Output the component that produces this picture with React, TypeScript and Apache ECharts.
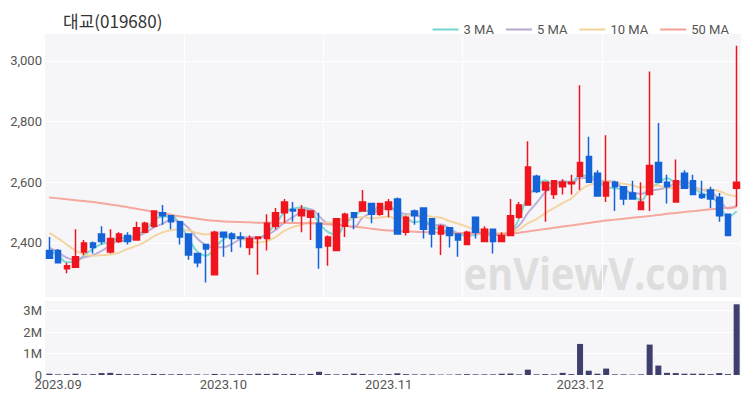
import React, { useEffect, useRef } from "react";
import * as echarts from "echarts";

const dates: string[] = [
  "2023-08-31",
  "2023-09-01", "2023-09-04", "2023-09-05", "2023-09-06", "2023-09-07", "2023-09-08",
  "2023-09-11", "2023-09-12", "2023-09-13", "2023-09-14", "2023-09-15",
  "2023-09-18", "2023-09-19", "2023-09-20", "2023-09-21", "2023-09-22",
  "2023-09-25", "2023-09-26", "2023-09-27",
  "2023-10-04", "2023-10-05", "2023-10-06",
  "2023-10-10", "2023-10-11", "2023-10-12", "2023-10-13",
  "2023-10-16", "2023-10-17", "2023-10-18", "2023-10-19", "2023-10-20",
  "2023-10-23", "2023-10-24", "2023-10-25", "2023-10-26", "2023-10-27",
  "2023-10-30", "2023-10-31",
  "2023-11-01", "2023-11-02", "2023-11-03",
  "2023-11-06", "2023-11-07", "2023-11-08", "2023-11-09", "2023-11-10",
  "2023-11-13", "2023-11-14", "2023-11-15", "2023-11-16", "2023-11-17",
  "2023-11-20", "2023-11-21", "2023-11-22", "2023-11-23", "2023-11-24",
  "2023-11-27", "2023-11-28", "2023-11-29", "2023-11-30",
  "2023-12-01",
  "2023-12-04", "2023-12-05", "2023-12-06", "2023-12-07", "2023-12-08",
  "2023-12-11", "2023-12-12", "2023-12-13", "2023-12-14", "2023-12-15",
  "2023-12-18", "2023-12-19", "2023-12-20", "2023-12-21", "2023-12-22",
  "2023-12-26", "2023-12-27", "2023-12-28",
];

// [open, close, low, high]
const ohlc: number[][] = [
  [2375, 2350, 2350, 2420], [2375, 2335, 2335, 2380], [2315, 2325, 2300, 2335], [2320, 2355, 2320, 2445],
  [2370, 2400, 2360, 2410], [2400, 2385, 2365, 2405], [2430, 2405, 2395, 2455], [2370, 2415, 2365, 2445],
  [2405, 2430, 2400, 2435], [2425, 2405, 2395, 2435], [2410, 2450, 2410, 2470], [2435, 2465, 2435, 2470],
  [2455, 2505, 2450, 2505], [2500, 2490, 2460, 2525], [2490, 2470, 2445, 2490], [2470, 2420, 2395, 2470],
  [2430, 2360, 2345, 2430], [2365, 2335, 2320, 2365], [2395, 2380, 2270, 2395], [2295, 2435, 2295, 2440],
  [2435, 2420, 2355, 2435], [2430, 2415, 2370, 2435], [2420, 2415, 2385, 2435], [2385, 2415, 2360, 2425],
  [2415, 2420, 2295, 2420], [2415, 2465, 2375, 2495], [2455, 2500, 2445, 2515], [2500, 2535, 2465, 2545],
  [2510, 2505, 2470, 2535], [2490, 2510, 2435, 2525], [2485, 2505, 2410, 2505], [2465, 2385, 2315, 2500],
  [2390, 2420, 2325, 2425], [2375, 2480, 2375, 2480], [2455, 2495, 2420, 2500], [2500, 2485, 2445, 2500],
  [2505, 2535, 2505, 2575], [2530, 2495, 2465, 2530], [2495, 2530, 2490, 2530], [2510, 2535, 2485, 2545],
  [2545, 2430, 2430, 2550], [2435, 2485, 2425, 2490], [2505, 2490, 2460, 2510], [2515, 2445, 2415, 2515],
  [2480, 2430, 2385, 2480], [2430, 2455, 2360, 2460], [2450, 2425, 2385, 2450], [2430, 2410, 2355, 2430],
  [2395, 2435, 2395, 2440], [2485, 2435, 2415, 2485], [2405, 2445, 2405, 2455], [2445, 2405, 2365, 2445],
  [2405, 2425, 2405, 2435], [2425, 2490, 2425, 2545], [2485, 2525, 2480, 2535], [2525, 2650, 2525, 2735],
  [2620, 2570, 2565, 2625], [2575, 2600, 2470, 2600], [2560, 2605, 2545, 2605], [2585, 2600, 2560, 2610],
  [2595, 2600, 2560, 2625], [2620, 2665, 2575, 2920], [2685, 2600, 2600, 2750], [2630, 2555, 2555, 2640],
  [2555, 2600, 2535, 2755], [2600, 2585, 2505, 2605], [2585, 2545, 2525, 2585], [2565, 2545, 2545, 2605],
  [2510, 2535, 2510, 2600], [2560, 2655, 2505, 2965], [2665, 2600, 2600, 2795], [2600, 2585, 2530, 2625],
  [2535, 2605, 2535, 2675], [2630, 2580, 2580, 2640], [2605, 2560, 2560, 2625], [2560, 2550, 2545, 2605],
  [2575, 2545, 2515, 2585], [2550, 2490, 2470, 2565], [2495, 2425, 2425, 2495], [2580, 2600, 2520, 3050],
];

const volumes: number[] = [
  60000, 30000, 40000, 60000, 30000, 40000, 90000, 100000, 50000, 30000,
  40000, 30000, 50000, 40000, 30000, 40000, 30000, 30000, 20000, 50000,
  30000, 30000, 40000, 40000, 60000, 50000, 60000, 40000, 50000, 30000,
  50000, 150000, 40000, 30000, 40000, 70000, 50000, 30000, 30000, 40000,
  80000, 40000, 30000, 30000, 30000, 20000, 20000, 30000, 40000, 30000,
  30000, 30000, 60000, 70000, 30000, 250000, 30000, 40000, 30000, 100000,
  40000, 1450000, 200000, 60000, 300000, 30000, 30000, 20000, 30000, 1420000,
  440000, 100000, 90000, 60000, 60000, 60000, 40000, 90000, 40000, 3300000,
];

const ma50: number[] = [
  2550, 2547, 2544, 2541, 2538, 2535, 2531, 2527, 2523, 2518,
  2513, 2508, 2503, 2498, 2493, 2488, 2484, 2480, 2476, 2473,
  2471, 2470, 2469, 2468, 2467, 2467, 2466, 2466, 2466, 2465,
  2465, 2464, 2462, 2460, 2457, 2454, 2451, 2447, 2444, 2441,
  2439, 2438, 2437, 2436, 2435, 2434, 2433, 2432, 2432, 2431,
  2431, 2430, 2430, 2431, 2434, 2438, 2442, 2446, 2450, 2454,
  2458, 2462, 2466, 2470, 2474, 2477, 2480, 2483, 2486, 2489,
  2492, 2496, 2499, 2502, 2505, 2508, 2511, 2514, 2516, 2518,
];

// first values of the shorter averages (they depend on earlier sessions)
const ma3Lead: number[] = [2372, 2360];
const ma5Lead: number[] = [2385, 2370, 2352, 2345];
const ma10Lead: number[] = [2433, 2415, 2395, 2375, 2362, 2358, 2360, 2362, 2368];

const seriesNames = ["3 MA", "5 MA", "10 MA", "50 MA"];
const maColors = ["#74d6ce", "#b7a7d1", "#f3d198", "#f6a095"];

function movingAverage(n: number, lead: number[]): number[] {
  const closes = ohlc.map((d) => d[1]);
  return closes.map((_, i) => {
    if (i < n - 1) return lead[i];
    let s = 0;
    for (let k = i - n + 1; k <= i; k++) s += closes[k];
    return Math.round((s / n) * 10) / 10;
  });
}

const isMonthStart = (i: number) =>
  i > 0 && dates[i].slice(5, 7) !== dates[i - 1].slice(5, 7);

export default function App() {
  const ref = useRef<HTMLDivElement>(null);
  useEffect(() => {
    document.body.style.margin = "0";
    if (!ref.current) return;
    const chart = echarts.init(ref.current, undefined, { renderer: "svg" });
    const font = "Roboto";
    const maData = [movingAverage(3, ma3Lead), movingAverage(5, ma5Lead), movingAverage(10, ma10Lead), ma50];
    chart.setOption({
      animation: false,
      backgroundColor: "#ffffff",
      title: {
        text: "대교(019680)",
        left: 63,
        top: 12,
        padding: 0,
        textStyle: { fontSize: 17, fontWeight: "normal", color: "#333", fontFamily: "Noto Sans CJK KR" },
      },
      legend: {
        data: seriesNames,
        right: 16,
        top: 18,
        icon: "rect",
        itemWidth: 26,
        itemHeight: 2,
        itemGap: 12,
        textStyle: { fontSize: 13, color: "#555", fontFamily: font },
      },
      graphic: [
        {
          type: "text",
          x: 729,
          y: 251,
          scaleX: 0.9,
          z: 0,
          silent: true,
          style: {
            text: "enViewV.com",
            font: "bold 44px 'Open Sans'",
            fill: "#dedede",
            align: "right",
            verticalAlign: "top",
          },
        },
      ],
      grid: [
        { left: 45, right: 9, top: 33, height: 264, show: true, backgroundColor: "#f6f6f8", borderWidth: 0 },
        { left: 45, right: 9, top: 300, height: 75, show: true, backgroundColor: "#f6f6f8", borderWidth: 0 },
      ],
      xAxis: [
        {
          type: "category",
          gridIndex: 0,
          data: dates,
          axisLine: { show: false },
          axisTick: { show: false },
          axisLabel: { show: false },
          splitLine: {
            show: true,
            interval: (i: number) => i > 0 && i % 16 === 0,
            lineStyle: { color: "#ffffff", width: 1 },
          },
        },
        {
          type: "category",
          gridIndex: 1,
          data: dates,
          axisLine: { show: false },
          axisTick: { show: false },
          splitLine: { show: false },
          axisLabel: {
            interval: (i: number) => isMonthStart(i),
            formatter: (v: string) => v.slice(0, 4) + "." + v.slice(5, 7),
            fontSize: 13,
            color: "#555",
            margin: 3,
            fontFamily: font,
          },
        },
      ],
      yAxis: [
        {
          type: "value",
          gridIndex: 0,
          min: 2222,
          max: 3092,
          axisLine: { show: false },
          axisTick: { show: false },
          axisLabel: { fontSize: 13, color: "#555", margin: 3, showMinLabel: false, showMaxLabel: false, fontFamily: font },
          splitLine: { lineStyle: { color: "#ffffff", width: 1 } },
        },
        {
          type: "value",
          gridIndex: 1,
          min: 0,
          max: 3500000,
          interval: 1000000,
          axisLine: { show: false },
          axisTick: { show: false },
          axisLabel: {
            fontSize: 13,
            color: "#555",
            margin: 3,
            showMaxLabel: false,
            fontFamily: font,
            formatter: (v: number) => (v === 0 ? "0" : v / 1000000 + "M"),
          },
          splitLine: { lineStyle: { color: "#ffffff", width: 1 } },
        },
      ],
      series: [
        ...seriesNames.map((name, k) => ({
          name,
          type: "line",
          xAxisIndex: 0,
          yAxisIndex: 0,
          data: maData[k],
          showSymbol: false,
          smooth: true,
          z: 2,
          lineStyle: { color: maColors[k], width: 2, opacity: 0.9 },
          itemStyle: { color: maColors[k] },
        })),
        {
          name: "price",
          type: "candlestick",
          xAxisIndex: 0,
          yAxisIndex: 0,
          data: ohlc,
          barWidth: 6,
          z: 3,
          itemStyle: {
            color: "#f0141e",
            color0: "#1463d8",
            borderColor: "#f0141e",
            borderColor0: "#1463d8",
            borderWidth: 1.5,
          },
        },
        {
          name: "volume",
          type: "bar",
          xAxisIndex: 1,
          yAxisIndex: 1,
          data: volumes,
          barWidth: 6,
          itemStyle: { color: "#3f3f6d" },
        },
      ],
    });
    return () => chart.dispose();
  }, []);
  return <div ref={ref} style={{ width: 750, height: 400 }} />;
}
